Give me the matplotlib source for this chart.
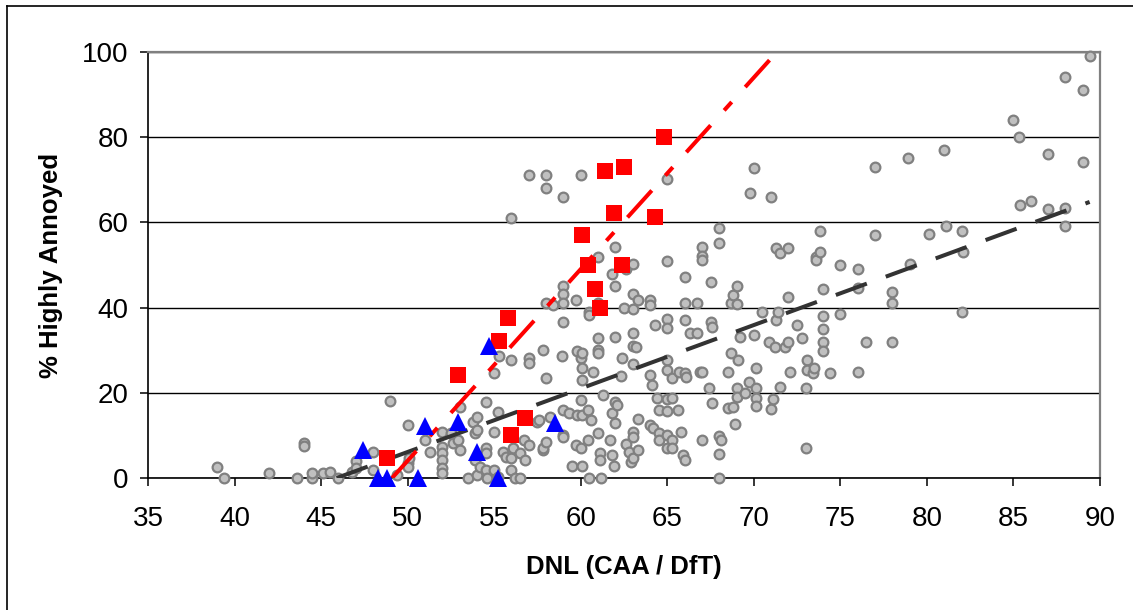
import matplotlib
matplotlib.use("Agg")
import matplotlib.pyplot as plt
from matplotlib.lines import Line2D

plt.rcParams['font.family'] = ['Liberation Sans', 'DejaVu Sans']

# grey survey points (DNL, % highly annoyed)
gray_dnl = [39.0, 39.4, 42.0, 43.6, 44.0, 44.0, 44.5, 44.5, 45.1, 45.5, 46.0, 46.8, 47.0, 47.0, 48.0,
            48.0, 49.0, 49.4, 50.0, 50.0, 50.1, 50.0, 51.0, 51.3, 52.0, 52.0, 52.0, 52.0, 52.0, 52.0,
            52.5, 52.6, 52.9, 53.0, 53.0, 53.5, 53.8, 53.9, 54.0, 54.0, 53.9, 54.0, 54.2, 54.5, 54.5,
            54.5, 54.5, 54.6, 55.0, 55.0, 55.0, 55.2, 55.2, 55.3, 55.5, 55.7, 56.0, 56.0, 56.0, 56.0,
            56.1, 56.2, 56.5, 56.5, 56.7, 56.8, 57.0, 57.0, 57.0, 57.0, 57.5, 57.6, 57.8, 57.8, 57.8,
            58.0, 58.0, 58.0, 58.0, 58.0, 58.2, 58.4, 58.9, 59.0, 59.0, 59.0, 59.0, 59.0, 59.0, 59.0,
            59.0, 59.3, 59.5, 59.7, 59.7, 59.8, 59.8, 60.0, 60.0, 60.0, 60.0, 60.1, 60.1, 60.1, 60.1,
            60.1, 60.4, 60.4, 60.5, 60.5, 60.5, 60.6, 60.7, 61.0, 61.0, 61.0, 61.0, 61.0, 61.0, 61.1,
            61.1, 61.2, 61.3, 61.7, 61.8, 61.8, 61.8, 61.9, 62.0, 62.0, 62.0, 62.0, 62.1, 62.0, 62.3,
            62.4, 62.5, 62.6, 62.6, 62.8, 62.9, 63.0, 63.0, 63.0, 63.0, 63.0, 63.2, 63.0, 63.0, 63.0,
            63.0, 63.3, 63.3, 63.3, 64.0, 64.0, 64.0, 64.0, 64.1, 64.2, 64.3, 64.4, 64.5, 64.5, 64.5,
            65.0, 65.0, 65.0, 65.0, 65.0, 65.0, 65.0, 65.0, 65.0, 65.0, 65.3, 65.3, 65.3, 65.3, 65.6,
            65.7, 65.8, 65.9, 66.0, 66.0, 66.0, 66.0, 66.0, 66.1, 66.3, 66.7, 66.7, 66.9, 67.0, 67.0,
            67.0, 67.0, 67.0, 67.4, 67.5, 67.5, 67.6, 67.6, 68.0, 68.0, 68.0, 68.1, 68.0, 68.0, 68.5,
            68.5, 68.7, 68.7, 68.8, 68.8, 68.9, 69.0, 69.0, 69.0, 69.0, 69.1, 69.2, 69.5, 69.7, 69.8,
            70.0, 70.0, 70.1, 70.1, 70.1, 70.1, 70.5, 70.9, 71.0, 71.0, 71.1, 71.2, 71.3, 71.3, 71.4,
            71.5, 71.5, 71.8, 72.0, 72.0, 72.0, 72.1, 72.5, 72.8, 73.0, 73.0, 73.1, 73.1, 73.4, 73.5,
            73.6, 73.6, 73.8, 73.8, 74.0, 74.0, 74.0, 74.0, 74.0, 74.4, 75.0, 75.0, 76.0, 76.0, 76.0,
            76.5, 77.0, 77.0, 78.0, 78.0, 78.0, 78.9, 79.0, 80.1, 81.0, 81.1, 82.0, 82.1, 82.0, 85.0,
            85.3, 85.4, 86.0, 87.0, 87.0, 88.0, 88.0, 88.0, 89.0, 89.0, 89.4]
gray_ha = [2.6, 0.0, 1.2, 0.0, 8.2, 7.5, 0.0, 1.2, 1.2, 1.3, 0.0, 1.4, 4.0, 2.3, 6.0,
           1.9, 18.0, 0.7, 12.5, 3.5, 4.7, 2.6, 9.0, 6.0, 10.8, 7.3, 5.9, 4.2, 2.3, 1.2,
           10.6, 8.2, 8.9, 16.7, 6.6, 0.0, 13.1, 10.6, 14.3, 11.3, 4.2, 0.7, 2.6, 17.8, 7.0,
           5.9, 1.9, 0.0, 24.6, 10.8, 1.9, 15.5, 0.2, 28.6, 6.0, 4.9, 61.0, 27.7, 4.7, 1.9,
           7.0, 0.0, 5.9, 0.0, 8.9, 4.2, 71.1, 28.2, 27.0, 7.7, 13.1, 13.6, 30.0, 6.6, 7.0,
           71.1, 68.0, 41.0, 23.5, 8.5, 14.3, 40.6, 28.6, 66.0, 45.0, 43.2, 41.0, 36.6, 16.0, 10.1,
           9.6, 15.3, 2.8, 41.8, 7.7, 29.8, 14.8, 71.1, 28.2, 18.3, 7.0, 29.3, 25.8, 23.0, 14.8,
           2.8, 16.0, 8.9, 39.0, 38.3, 0.0, 13.6, 24.9, 51.9, 41.0, 32.9, 30.0, 29.3, 10.6, 5.9,
           4.2, 0.0, 19.5, 8.9, 48.0, 15.3, 5.4, 2.8, 54.2, 45.0, 33.1, 17.8, 17.1, 12.9, 23.9,
           28.2, 40.0, 49.0, 8.0, 6.1, 3.8, 50.2, 43.2, 39.7, 34.0, 31.0, 30.8, 26.8, 10.8, 9.6,
           4.7, 41.8, 13.8, 6.6, 41.8, 40.6, 24.2, 12.4, 21.8, 11.7, 35.9, 18.8, 16.0, 10.6, 8.9,
           70.2, 51.0, 37.3, 35.2, 27.7, 25.4, 18.5, 15.7, 10.1, 7.0, 23.5, 18.8, 8.9, 7.0, 16.0,
           24.9, 10.8, 5.4, 47.2, 41.0, 37.1, 24.6, 4.2, 23.7, 34.0, 34.0, 41.0, 24.9, 54.2, 52.1,
           51.2, 24.9, 8.9, 21.1, 46.0, 36.6, 35.4, 17.6, 58.7, 55.2, 9.9, 8.9, 5.6, 0.0, 24.9,
           16.4, 41.0, 29.3, 43.0, 16.7, 12.7, 45.0, 40.8, 21.1, 19.0, 27.7, 33.1, 20.0, 22.5, 66.9,
           72.8, 33.6, 25.8, 21.1, 18.8, 16.9, 39.0, 31.9, 66.0, 16.2, 18.5, 30.8, 54.0, 37.0, 39.0,
           52.8, 21.4, 30.8, 54.0, 42.5, 31.9, 24.9, 35.9, 32.9, 21.1, 7.0, 27.7, 25.4, 24.6, 25.8,
           51.9, 51.2, 58.0, 53.0, 44.4, 38.0, 35.0, 31.9, 29.8, 24.6, 50.0, 38.5, 49.0, 44.5, 24.9,
           31.9, 73.0, 57.0, 43.7, 41.0, 31.9, 75.1, 50.2, 57.3, 77.0, 59.2, 58.0, 53.0, 39.0, 84.0,
           80.0, 64.1, 65.0, 76.0, 63.1, 94.1, 63.4, 59.2, 91.1, 74.2, 99.0]

# red squares
red_dnl = [48.8, 52.9, 55.3, 55.8, 56.0, 56.8, 60.1, 60.4, 60.8, 61.1, 61.4, 61.9, 62.4, 62.5, 64.3, 64.8]
red_ha = [4.7, 24.2, 32.2, 37.6, 10.1, 14.1, 57.0, 50.0, 44.4, 40.0, 72.0, 62.2, 50.0, 73.0, 61.3, 80.0]

# blue triangles
blue_dnl = [47.4, 48.3, 48.8, 50.6, 51.0, 52.9, 54.0, 54.7, 55.2, 58.5]
blue_ha = [6.5, 0.0, 0.0, 0.0, 12.3, 13.2, 6.0, 31.0, 0.0, 13.0]

# trend lines (end points)
fit_all_x = [45.9, 89.4]
fit_all_y = [0.0, 64.8]
fit_red_x = [49.1, 71.0]
fit_red_y = [0.0, 98.5]

fig = plt.figure(figsize=(11.33, 6.10), dpi=100)
ax = fig.add_axes([0.1306, 0.2164, 0.8403, 0.6984])

ax.plot(gray_dnl, gray_ha, 'o', ms=7.0, mfc='#c0c0c0', mec='#808080', mew=1.6, zorder=3, clip_on=False)
ax.plot(fit_all_x, fit_all_y, color='#333333', lw=2.9, dashes=(8.2, 5.0), solid_capstyle='butt',
        dash_capstyle='butt', zorder=4)
ax.plot(fit_red_x, fit_red_y, color='#ff0000', lw=2.9, dashes=(9.0, 5.0, 2.8, 5.0),
        dash_capstyle='butt', zorder=5)
ax.plot(red_dnl, red_ha, 's', ms=11, mfc='#ff0000', mec='#ff0000', mew=0, zorder=6)
ax.plot(blue_dnl, blue_ha, '^', ms=13.5, mfc='#0000ff', mec='#0000ff', mew=0, zorder=7, clip_on=False)

ax.set_xlim(35, 90)
ax.set_ylim(0, 100)
ax.set_xticks(range(35, 91, 5))
ax.set_yticks(range(0, 101, 20))

ax.grid(axis='y', color='black', lw=1.0, zorder=1)
ax.set_axisbelow(True)
for s in ['left', 'bottom']:
    ax.spines[s].set_color('black')
    ax.spines[s].set_linewidth(1.2)
for s in ['top', 'right']:
    ax.spines[s].set_color('#808080')
    ax.spines[s].set_linewidth(1.6)

ax.tick_params(axis='both', direction='out', length=6, width=1.1, color='black', labelsize=20)
ax.tick_params(axis='x', pad=14)
ax.tick_params(axis='y', pad=8)

ax.set_xlabel('DNL (CAA / DfT)', fontsize=18.5, fontweight='bold', labelpad=17)
ax.set_ylabel('% Highly Annoyed', fontsize=18.5, fontweight='bold', labelpad=14)

# outer chart frame (left and top edges visible)
fig.add_artist(Line2D([0.0062, 0.0062], [0, 0.990], color='black', lw=1.2, transform=fig.transFigure))
fig.add_artist(Line2D([0.0062, 1.0], [0.990, 0.990], color='black', lw=1.2, transform=fig.transFigure))

fig.savefig('out.png', dpi=100)
